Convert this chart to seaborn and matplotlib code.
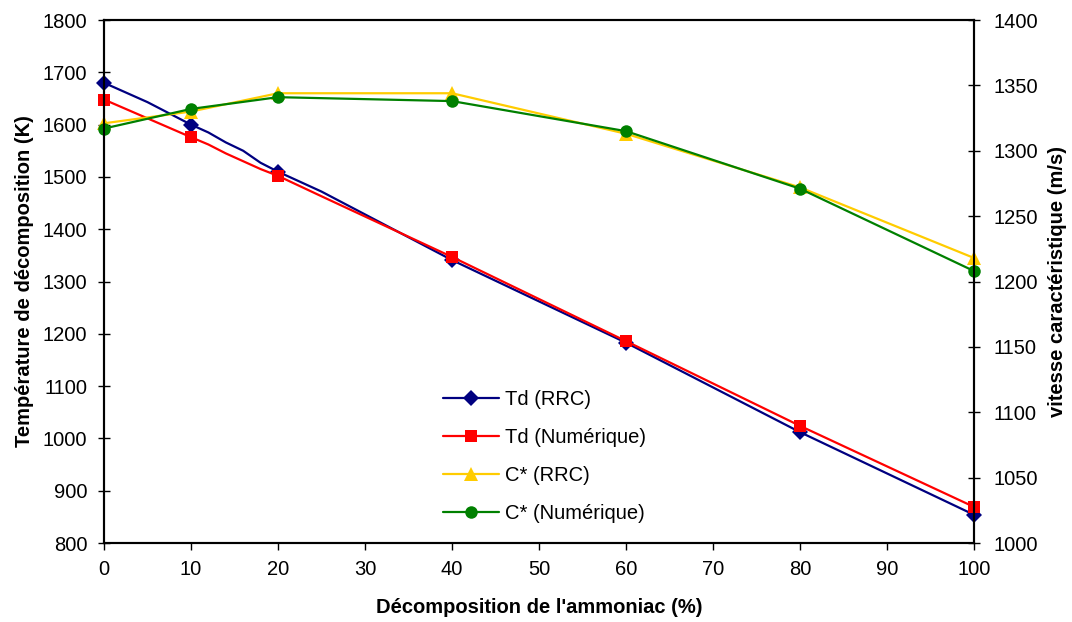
import matplotlib
matplotlib.use("Agg")
import matplotlib.pyplot as plt
import seaborn as sns
import pandas as pd

# decomposition of ammonia (%)
x_td = [0, 5, 10, 12, 14, 16, 18, 20, 25, 40, 60, 80, 100]
td_rrc = [1680, 1643, 1600, 1585, 1566, 1550, 1527, 1510, 1472, 1341, 1183, 1012, 854]
td_num = [1648, 1612, 1576, 1562, 1545, 1530, 1515, 1502, 1463, 1347, 1186, 1024, 869]
x_c = [0, 10, 20, 40, 60, 80, 100]
c_rrc = [1321, 1330, 1344, 1344, 1313, 1272, 1218]
c_num = [1317, 1332, 1341, 1338, 1315, 1271, 1208]
marker_idx = [0, 2, 7, 9, 10, 11, 12]

sns.set_style("white")
plt.rcParams['font.family'] = ['Liberation Sans', 'DejaVu Sans']
plt.rcParams['text.color'] = 'black'
plt.rcParams['axes.labelcolor'] = 'black'
plt.rcParams['xtick.color'] = 'black'
plt.rcParams['ytick.color'] = 'black'

df_td = pd.DataFrame({"x": x_td, "rrc": td_rrc, "num": td_num})
df_c = pd.DataFrame({"x": x_c, "rrc": c_rrc, "num": c_num})

fig = plt.figure(figsize=(10.72, 6.22), dpi=100)
ax = fig.add_axes([0.097, 0.127, 0.8116, 0.8408])
ax2 = ax.twinx()

sns.lineplot(data=df_td, x="x", y="rrc", ax=ax, color="#000080", marker="D",
             markersize=8, markevery=marker_idx, linewidth=1.6, clip_on=False,
             markeredgewidth=0, label="Td (RRC)", legend=False)
sns.lineplot(data=df_td, x="x", y="num", ax=ax, color="#ff0000", marker="s",
             markersize=9, markevery=marker_idx, linewidth=1.6, clip_on=False,
             markeredgewidth=0, label="Td (Numérique)", legend=False)
sns.lineplot(data=df_c, x="x", y="rrc", ax=ax2, color="#ffcc00", marker="^",
             markersize=10, linewidth=1.6, markeredgewidth=0, clip_on=False,
             label="C* (RRC)", legend=False)
sns.lineplot(data=df_c, x="x", y="num", ax=ax2, color="#008000", marker="o",
             markersize=9, linewidth=1.6, markeredgewidth=0, clip_on=False,
             label="C* (Numérique)", legend=False)

ax.set_xlim(0, 100)
ax.set_ylim(800, 1800)
ax2.set_ylim(1000, 1400)
ax.set_xticks(range(0, 101, 10))
ax.set_yticks(range(800, 1801, 100))
ax2.set_yticks(range(1000, 1401, 50))

fs = 14.5
ax.set_xlabel("Décomposition de l'ammoniac (%)", fontsize=fs, fontweight="bold", labelpad=14)
ax.set_ylabel("Température de décomposition (K)", fontsize=fs, fontweight="bold", labelpad=6)
ax2.set_ylabel("vitesse caractéristique (m/s)", fontsize=fs, fontweight="bold", labelpad=7)

ax.tick_params(axis="x", direction="out", length=5, width=1, labelsize=fs, pad=7, bottom=True)
ax.tick_params(axis="y", direction="inout", length=8, width=1, labelsize=fs, left=True, pad=8)
ax2.tick_params(axis="y", direction="inout", length=8, width=1, labelsize=fs, right=True, pad=10)

for a in (ax, ax2):
    for s in a.spines.values():
        s.set_color("black")
        s.set_linewidth(1.5)

h1, l1 = ax.get_legend_handles_labels()
h2, l2 = ax2.get_legend_handles_labels()
fig.legend(h1 + h2, l1 + l2, loc="upper left", bbox_to_anchor=(0.396, 0.402),
           frameon=False, fontsize=fs, handlelength=2.8, labelspacing=0.95,
           handletextpad=0.3)

fig.savefig("out.png", dpi=100)
